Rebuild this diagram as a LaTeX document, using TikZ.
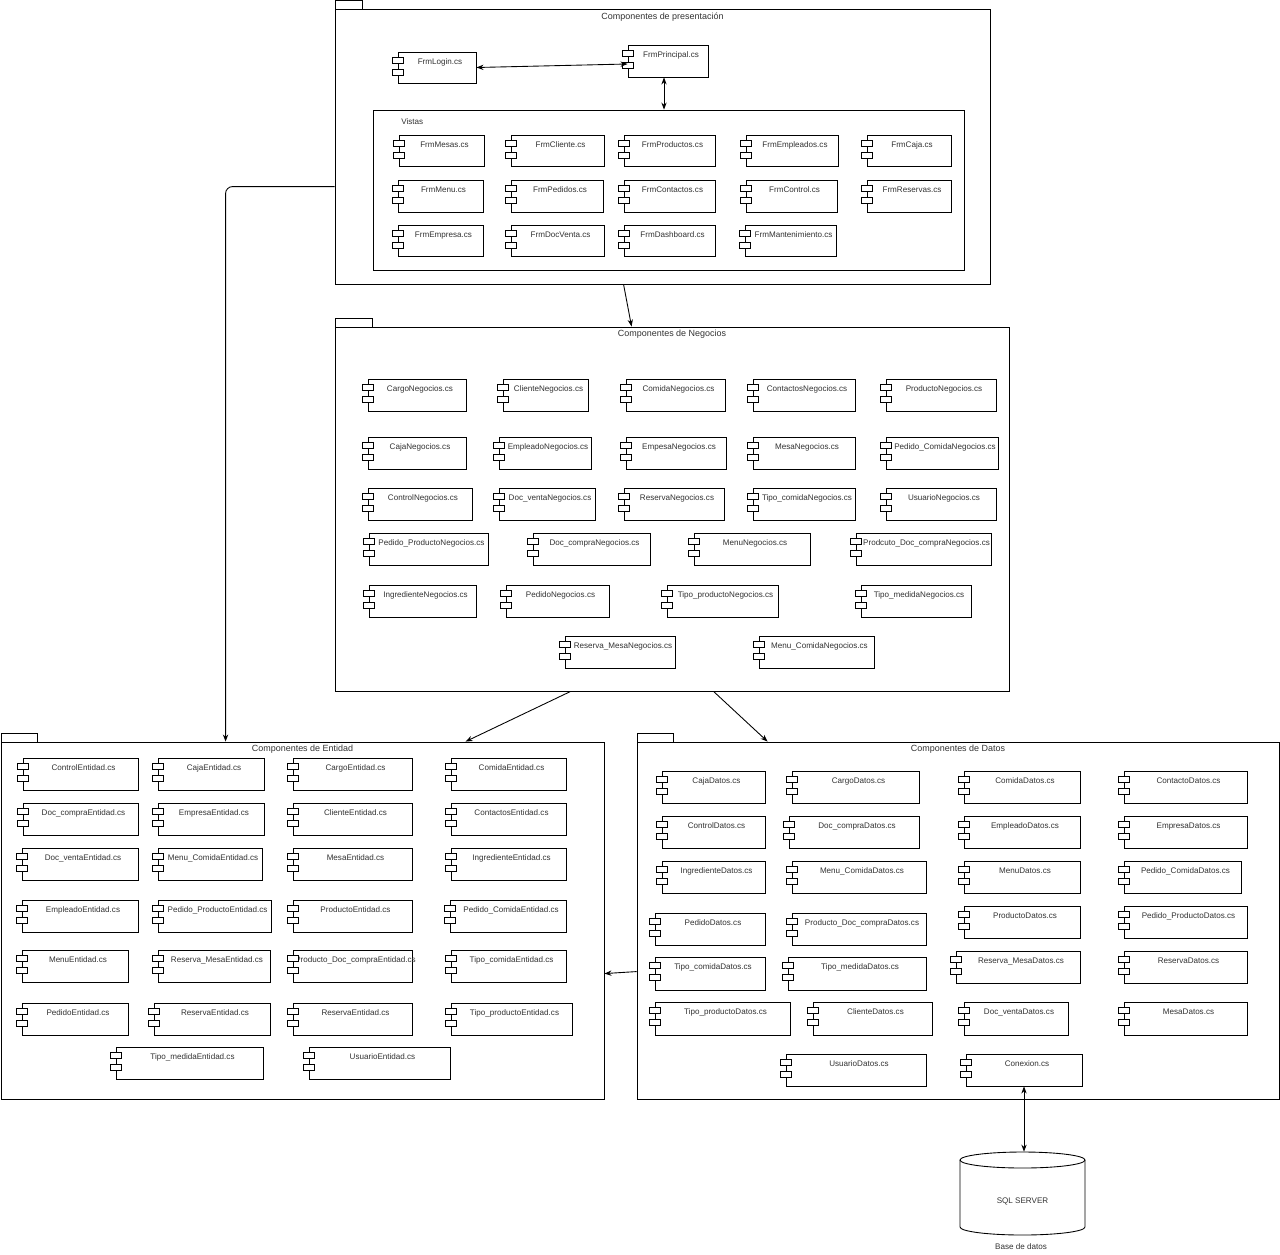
\documentclass[tikz,border=0pt]{standalone}
\usepackage{fontspec}
\setmainfont{Liberation Sans}
\usetikzlibrary{calc,arrows.meta}
\tikzstyle{comp}=[rectangle, draw=black, line width=0.5pt, inner sep=0pt, anchor=center]
\tikzstyle{notch}=[draw=black, line width=0.5pt, fill=white]
\tikzstyle{lbl}=[anchor=north, inner sep=0pt, yshift=-0.14cm, xshift=0.06cm, text=black!80, font=\fontsize{4.6}{5}\selectfont]
\tikzstyle{pkgbox}=[rectangle, draw=black, line width=0.5pt, inner sep=0pt, anchor=center]
\tikzstyle{ttl}=[anchor=north, inner sep=0pt, yshift=-0.07cm, text=black!80, font=\fontsize{5.1}{6}\selectfont]
\tikzstyle{txt}=[inner sep=0pt, text=black!80, font=\fontsize{4.6}{5}\selectfont]
\tikzstyle{conn}=[line width=0.5pt, >={Stealth[length=4pt,width=3pt]}]
% component: name, x1, y1, x2, y2, text
\newcommand{\comp}[6]
{
  \node[comp, minimum width={(#4-#2)*0.02cm}, minimum height={(#5-#3)*0.02cm}, label={[lbl]above:#6}] (#1) at ({(#2+#4)/2},{(#3+#5)/2}){};
  \draw[notch] ([shift={(-5,6)}]#1.north west) rectangle ++(11,6);
  \draw[notch] ([shift={(-5,18)}]#1.north west) rectangle ++(11,6);
}
% package: name, x1, y1, x2, y2, tab width, title
\newcommand{\drawpkg}[7]
{
  \draw[line width=0.5pt] (#2,{#3-9}) rectangle ({#2+#6},#3);
  \node[pkgbox, minimum width={(#4-#2)*0.02cm}, minimum height={(#5-#3)*0.02cm}, label={[ttl]above:#7}] (#1) at ({(#2+#4)/2},{(#3+#5)/2}){};
}
\begin{document}
\begin{tikzpicture}[x=0.02cm, y=-0.02cm]
	\useasboundingbox (0,0) rectangle (1280,1254);

	\drawpkg{pres}{335}{9}{990}{284}{27}{Componentes de presentación}
	\comp{login}{398}{52}{476}{83}{FrmLogin.cs}
	\comp{principal}{628}{45}{708}{77}{FrmPrincipal.cs}
	\node[pkgbox, minimum width=11.82cm, minimum height=3.2cm] (vistas) at (668.5,190){};
	\node[txt, anchor=west] (vistastxt) at (401,122) {Vistas};
	\comp{mesasF}{399}{135}{484}{166}{FrmMesas.cs}
	\comp{clienteF}{511}{135}{604}{166}{FrmCliente.cs}
	\comp{productosF}{624}{135}{715}{166}{FrmProductos.cs}
	\comp{empleadosF}{746}{135}{838}{166}{FrmEmpleados.cs}
	\comp{cajaF}{867}{135}{951}{166}{FrmCaja.cs}
	\comp{menuF}{398}{180}{483}{212}{FrmMenu.cs}
	\comp{pedidosF}{511}{180}{603}{212}{FrmPedidos.cs}
	\comp{contactosF}{624}{180}{715}{212}{FrmContactos.cs}
	\comp{controlF}{746}{180}{837}{212}{FrmControl.cs}
	\comp{reservasF}{867}{180}{951}{212}{FrmReservas.cs}
	\comp{empresaF}{398}{225}{483}{256}{FrmEmpresa.cs}
	\comp{docventaF}{511}{225}{604}{256}{FrmDocVenta.cs}
	\comp{dashboardF}{624}{225}{715}{256}{FrmDashboard.cs}
	\comp{mantF}{745}{225}{836}{256}{FrmMantenimiento.cs}

	\drawpkg{neg}{335}{327}{1009}{691}{37}{Componentes de Negocios}
	\comp{cargoN}{368}{379}{466}{411}{CargoNegocios.cs}
	\comp{clienteN}{503}{379}{588}{411}{ClienteNegocios.cs}
	\comp{comidaN}{626}{379}{725}{411}{ComidaNegocios.cs}
	\comp{contactosN}{753}{379}{855}{411}{ContactosNegocios.cs}
	\comp{productoN}{886}{379}{996}{411}{ProductoNegocios.cs}
	\comp{cajaN}{368}{437}{466}{469}{CajaNegocios.cs}
	\comp{empleadoN}{499}{437}{591}{469}{EmpleadoNegocios.cs}
	\comp{empresaN}{626}{437}{726}{469}{EmpesaNegocios.cs}
	\comp{mesaN}{753}{437}{855}{469}{MesaNegocios.cs}
	\comp{pedidocomidaN}{886}{437}{998}{469}{Pedido\_ComidaNegocios.cs}
	\comp{controlN}{368}{488}{472}{520}{ControlNegocios.cs}
	\comp{docventaN}{499}{488}{595}{520}{Doc\_ventaNegocios.cs}
	\comp{reservaN}{624}{488}{724}{520}{ReservaNegocios.cs}
	\comp{tipocomidaN}{753}{488}{855}{520}{Tipo\_comidaNegocios.cs}
	\comp{usuarioN}{886}{488}{996}{520}{UsuarioNegocios.cs}
	\comp{pedidoprodN}{369}{533}{488}{565}{Pedido\_ProductoNegocios.cs}
	\comp{doccompraN}{533}{533}{650}{565}{Doc\_compraNegocios.cs}
	\comp{menuN}{694}{533}{810}{565}{MenuNegocios.cs}
	\comp{proddocN}{856}{533}{991}{565}{Prodcuto\_Doc\_compraNegocios.cs}
	\comp{ingredienteN}{369}{585}{476}{617}{IngredienteNegocios.cs}
	\comp{pedidoN}{506}{585}{609}{617}{PedidoNegocios.cs}
	\comp{tipoprodN}{667}{585}{778}{617}{Tipo\_productoNegocios.cs}
	\comp{tipomedidaN}{861}{585}{971}{617}{Tipo\_medidaNegocios.cs}
	\comp{reservamesaN}{565}{636}{675}{668}{Reserva\_MesaNegocios.cs}
	\comp{menucomidaN}{759}{636}{874}{668}{Menu\_ComidaNegocios.cs}

	\drawpkg{ent}{1}{742}{604}{1099}{36}{Componentes de Entidad}
	\comp{controlE}{23}{758}{138}{790}{ControlEntidad.cs}
	\comp{cajaE}{158}{758}{264}{790}{CajaEntidad.cs}
	\comp{cargoE}{293}{758}{412}{790}{CargoEntidad.cs}
	\comp{comidaE}{451}{758}{566}{790}{ComidaEntidad.cs}
	\comp{doccompraE}{23}{803}{138}{835}{Doc\_compraEntidad.cs}
	\comp{empresaE}{158}{803}{264}{835}{EmpresaEntidad.cs}
	\comp{clienteE}{293}{803}{412}{835}{ClienteEntidad.cs}
	\comp{contactosE}{451}{803}{566}{835}{ContactosEntidad.cs}
	\comp{docventaE}{22}{848}{138}{880}{Doc\_ventaEntidad.cs}
	\comp{menucomidaE}{158}{848}{262}{880}{Menu\_ComidaEntidad.cs}
	\comp{mesaE}{293}{848}{412}{880}{MesaEntidad.cs}
	\comp{ingredienteE}{451}{848}{566}{880}{IngredienteEntidad.cs}
	\comp{empleadoE}{22}{900}{138}{932}{EmpleadoEntidad.cs}
	\comp{pedidoprodE}{158}{900}{271}{932}{Pedido\_ProductoEntidad.cs}
	\comp{productoE}{293}{900}{412}{932}{ProductoEntidad.cs}
	\comp{pedidocomidaE}{450}{900}{566}{932}{Pedido\_ComidaEntidad.cs}
	\comp{menuE}{22}{950}{128}{982}{MenuEntidad.cs}
	\comp{reservamesaE}{158}{950}{270}{982}{Reserva\_MesaEntidad.cs}
	\comp{proddocE}{293}{950}{412}{982}{Producto\_Doc\_compraEntidad.cs}
	\comp{tipocomidaE}{451}{950}{566}{982}{Tipo\_comidaEntidad.cs}
	\comp{pedidoE}{22}{1003}{128}{1035}{PedidoEntidad.cs}
	\comp{reservaE}{154}{1003}{270}{1035}{ReservaEntidad.cs}
	\comp{reservadosE}{293}{1003}{412}{1035}{ReservaEntidad.cs}
	\comp{tipoprodE}{451}{1003}{572}{1035}{Tipo\_productoEntidad.cs}
	\comp{tipomedidaE}{116}{1047}{263}{1079}{Tipo\_medidaEntidad.cs}
	\comp{usuarioE}{309}{1047}{450}{1079}{UsuarioEntidad.cs}

	\drawpkg{datos}{637}{742}{1279}{1099}{36}{Componentes de Datos}
	\comp{cajaD}{662}{771}{765}{803}{CajaDatos.cs}
	\comp{cargoD}{792}{771}{919}{803}{CargoDatos.cs}
	\comp{comidaD}{964}{771}{1080}{803}{ComidaDatos.cs}
	\comp{contactoD}{1124}{771}{1247}{803}{ContactoDatos.cs}
	\comp{controlD}{662}{816}{765}{848}{ControlDatos.cs}
	\comp{doccompraD}{789}{816}{919}{848}{Doc\_compraDatos.cs}
	\comp{empleadoD}{964}{816}{1080}{848}{EmpleadoDatos.cs}
	\comp{empresaD}{1124}{816}{1247}{848}{EmpresaDatos.cs}
	\comp{ingredienteD}{662}{861}{765}{893}{IngredienteDatos.cs}
	\comp{menucomidaD}{792}{861}{926}{893}{Menu\_ComidaDatos.cs}
	\comp{menuD}{964}{861}{1080}{893}{MenuDatos.cs}
	\comp{pedidocomidaD}{1124}{861}{1241}{893}{Pedido\_ComidaDatos.cs}
	\comp{pedidoD}{655}{913}{765}{945}{PedidoDatos.cs}
	\comp{proddocD}{792}{913}{926}{945}{Producto\_Doc\_compraDatos.cs}
	\comp{productoD}{964}{906}{1080}{938}{ProductoDatos.cs}
	\comp{pedidoprodD}{1124}{906}{1247}{938}{Pedido\_ProductoDatos.cs}
	\comp{tipocomidaD}{655}{957}{765}{990}{Tipo\_comidaDatos.cs}
	\comp{tipomedidaD}{788}{957}{926}{990}{Tipo\_medidaDatos.cs}
	\comp{reservamesaD}{956}{951}{1080}{983}{Reserva\_MesaDatos.cs}
	\comp{reservaD}{1124}{951}{1247}{983}{ReservaDatos.cs}
	\comp{tipoprodD}{655}{1002}{790}{1035}{Tipo\_productoDatos.cs}
	\comp{clienteD}{813}{1002}{932}{1035}{ClienteDatos.cs}
	\comp{docventaD}{964}{1002}{1068}{1035}{Doc\_ventaDatos.cs}
	\comp{mesaD}{1124}{1002}{1247}{1035}{MesaDatos.cs}
	\comp{usuarioD}{786}{1054}{926}{1086}{UsuarioDatos.cs}
	\comp{conexion}{966}{1054}{1082}{1086}{Conexion.cs}

	% base de datos
	\node[txt, minimum width=2.5cm, minimum height=1.96cm] (db) at (1022.5,1201) {SQL SERVER};
	\draw[line width=0.5pt] (1022.5,1160) ellipse [x radius=1.25cm, y radius=0.16cm];
	\draw[line width=0.5pt] (960,1160) -- (960,1227) arc[start angle=180, end angle=360, x radius=1.25cm, y radius=0.16cm] -- (1085,1160);
	\node[txt] (dbtxt) at (1021,1247) {Base de datos};

	\draw[conn,<->] (login.east) -- ($(principal.west)+(0,3)$);
	\draw[conn,<->] ($(principal.south)+(-4,0)$) -- ($(principal.south |- vistas.north)+(-4,0)$);
	\draw[conn,->] ($(pres.south west)+(289,0)$) -- ($(neg.north west)+(297,0)$);
	\draw[conn,->, rounded corners=4] ($(pres.north west)+(0,178)$) -| ($(ent.north west)+(225,0)$);
	\draw[conn,->] ($(neg.south west)+(236,0)$) -- ($(ent.north west)+(465,0)$);
	\draw[conn,->] ($(neg.south west)+(379,0)$) -- ($(datos.north west)+(131,0)$);
	\draw[conn,->] ($(datos.north west)+(0,230)$) -- ($(ent.north east)+(0,232)$);
	\draw[conn,<->] (conexion.south) -- (conexion.south |- db.north);

\end{tikzpicture}
\end{document}
